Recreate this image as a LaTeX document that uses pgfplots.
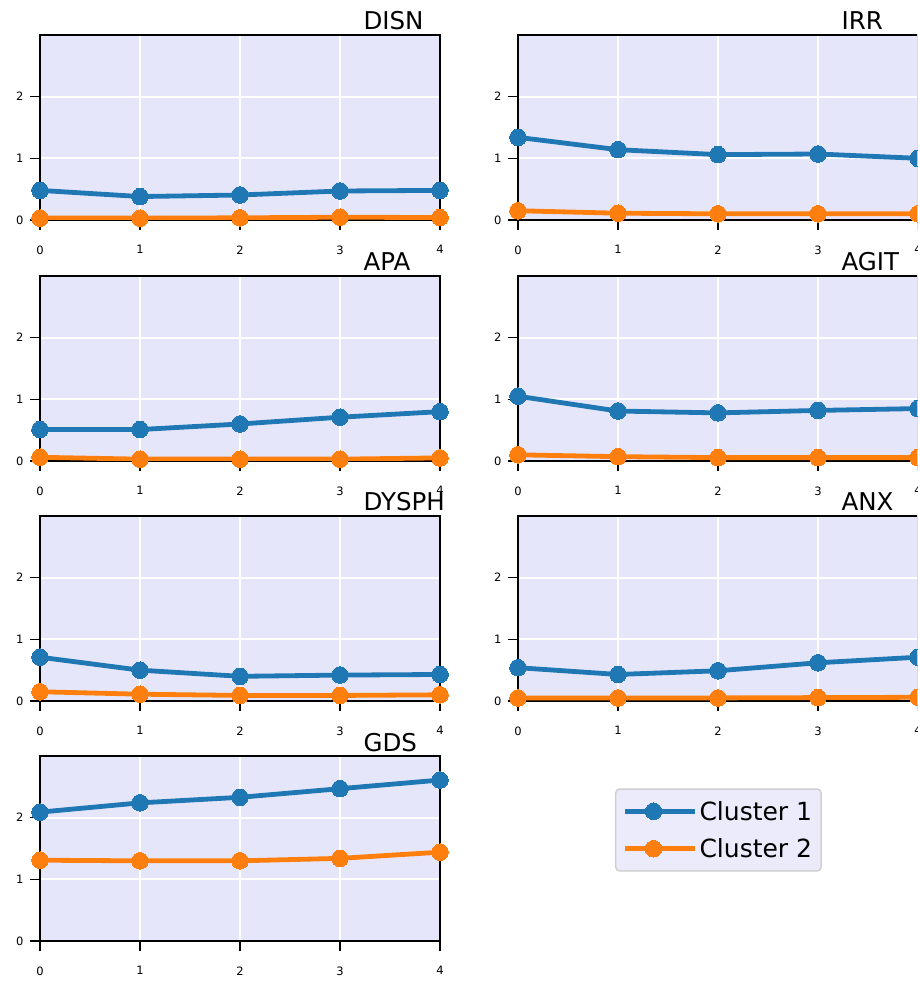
\documentclass[border=0pt]{standalone}
\usepackage{fontspec}
\setmainfont{DejaVu Sans}
\usepackage{pgfplots}
\usepackage{pgfplotstable}
\pgfplotsset{compat=1.18}
\definecolor{cA}{HTML}{1F77B4}
\definecolor{cB}{HTML}{FF7F0E}
\definecolor{bgcol}{HTML}{E6E6FA}
\definecolor{legfill}{HTML}{EBEBFB}
\definecolor{legdraw}{HTML}{D0D0D0}

\pgfplotstableread{
x a b
0 0.48 0.03
1 0.38 0.03
2 0.405 0.035
3 0.47 0.045
4 0.48 0.04
}\disn
\pgfplotstableread{
x a b
0 1.34 0.15
1 1.14 0.11
2 1.06 0.10
3 1.07 0.10
4 1.00 0.10
}\irr
\pgfplotstableread{
x a b
0 0.51 0.06
1 0.51 0.03
2 0.60 0.03
3 0.71 0.03
4 0.80 0.05
}\apa
\pgfplotstableread{
x a b
0 1.05 0.10
1 0.81 0.07
2 0.78 0.055
3 0.82 0.055
4 0.85 0.055
}\agit
\pgfplotstableread{
x a b
0 0.71 0.15
1 0.50 0.11
2 0.40 0.09
3 0.42 0.09
4 0.43 0.10
}\dysph
\pgfplotstableread{
x a b
0 0.54 0.05
1 0.43 0.05
2 0.49 0.05
3 0.62 0.055
4 0.71 0.06
}\anx
\pgfplotstableread{
x a b
0 2.09 1.31
1 2.24 1.30
2 2.33 1.30
3 2.47 1.34
4 2.61 1.44
}\gds

\pgfplotsset{
  panel/.style={
    anchor=south west,
    scale only axis, width=400pt, height=185pt,
    xmin=0, xmax=4, ymin=0, ymax=3,
    xtick={0,1,2,3,4}, ytick={0,1,2},
    axis background/.style={fill=bgcol},
    grid=major, major grid style={white, line width=2pt},
    axis line style={black, line width=1.7pt},
    tick align=outside, tick pos=left,
    major tick length=10pt,
    tick style={black, line width=1.5pt},
    ticklabel style={font=\fontsize{11.5}{13}\selectfont},
    xticklabel style={yshift=-12pt},
    yticklabel style={xshift=-3pt},
    /pgf/number format/assume math mode=true,
    clip mode=individual,
    title style={at={(0.8,1)}, anchor=base west, yshift=-1pt, font=\fontsize{24.5}{29}\selectfont},
  },
  sA/.style={cA, line width=4.8pt, mark=*, mark size=8.3pt, mark options={line width=0pt, fill=cA}},
  sB/.style={cB, line width=4.8pt, mark=*, mark size=8.3pt, mark options={line width=0pt, fill=cB}},
}

\begin{document}
\begin{tikzpicture}
\useasboundingbox (0,0) rectangle (917pt,981pt);
\clip (0,0) rectangle (917pt,981pt);

\begin{axis}[panel, at={(40pt,761pt)}, title={DISN}]
\addplot[sA] table[x=x,y=a]{\disn};
\addplot[sB] table[x=x,y=b]{\disn};
\end{axis}
\begin{axis}[panel, at={(518pt,761pt)}, title={IRR}]
\addplot[sA] table[x=x,y=a]{\irr};
\addplot[sB] table[x=x,y=b]{\irr};
\end{axis}

\begin{axis}[panel, at={(40pt,520pt)}, title={APA}]
\addplot[sA] table[x=x,y=a]{\apa};
\addplot[sB] table[x=x,y=b]{\apa};
\end{axis}
\begin{axis}[panel, at={(518pt,520pt)}, title={AGIT}]
\addplot[sA] table[x=x,y=a]{\agit};
\addplot[sB] table[x=x,y=b]{\agit};
\end{axis}

\begin{axis}[panel, at={(40pt,280pt)}, title={DYSPH}]
\addplot[sA] table[x=x,y=a]{\dysph};
\addplot[sB] table[x=x,y=b]{\dysph};
\end{axis}
\begin{axis}[panel, at={(518pt,280pt)}, title={ANX}]
\addplot[sA] table[x=x,y=a]{\anx};
\addplot[sB] table[x=x,y=b]{\anx};
\end{axis}

\begin{axis}[panel, at={(40pt,40pt)}, title={GDS},
  legend style={at={(1.696,0.60)}, anchor=center,
    font=\fontsize{25}{30}\selectfont,
    fill=legfill, draw=legdraw, line width=1.5pt, rounded corners=4pt,
    inner xsep=7pt, inner ysep=10pt, row sep=13pt,
    cells={anchor=west}},
  legend image code/.code={\draw[mark repeat=2,mark phase=2,#1] plot coordinates {(0pt,0pt) (28.5pt,0pt) (57pt,0pt)}; \path (57pt,0pt) -- (70pt,0pt);}
]
\addplot[sA] table[x=x,y=a]{\gds};
\addlegendentry{Cluster 1}
\addplot[sB] table[x=x,y=b]{\gds};
\addlegendentry{Cluster 2}
\end{axis}
\end{tikzpicture}
\end{document}
